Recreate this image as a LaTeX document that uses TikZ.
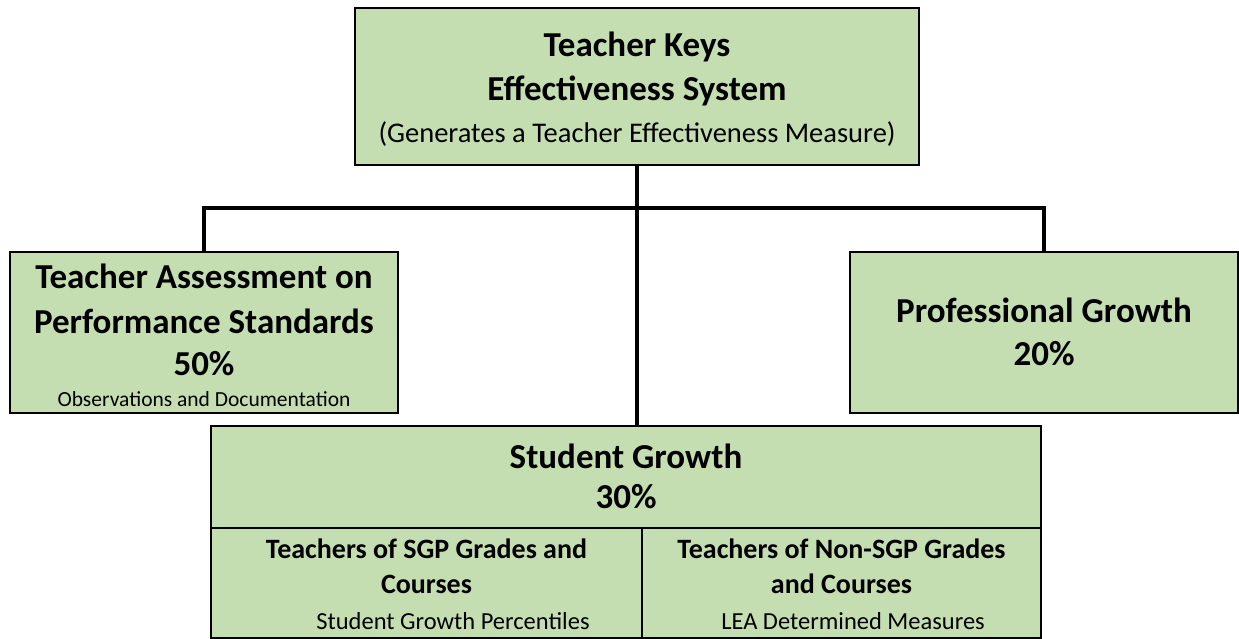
\documentclass[tikz,border=0pt]{standalone}
\usepackage{fontspec}
\setmainfont{Carlito}
\definecolor{boxgreen}{RGB}{196,222,178}
\begin{document}
\begin{tikzpicture}[x=1pt,y=-1pt,
  box/.style={draw=black, line width=2pt, fill=boxgreen, rectangle, inner sep=0pt},
  conn/.style={draw=black, line width=3.6pt},
  ttl/.style={anchor=base, inner sep=0pt, font=\fontsize{35}{40}\selectfont\bfseries},
  par/.style={anchor=base, inner sep=0pt, font=\fontsize{28.5}{32}\selectfont},
  subttl/.style={anchor=base, inner sep=0pt, font=\fontsize{28}{32}\selectfont\bfseries},
  small/.style={anchor=base, inner sep=0pt, font=\fontsize{24.5}{28}\selectfont},
  tiny/.style={anchor=base, inner sep=0pt, font=\fontsize{21.5}{24}\selectfont}]
\useasboundingbox (0,0) rectangle (1239,639);
\fill[white] (0,0) rectangle (1239,639);

% boxes
\node[box, minimum width=564pt, minimum height=157pt] (top) at (637,86.5) {};
\node[box, minimum width=388pt, minimum height=161pt] (tap) at (204,332.5) {};
\node[box, minimum width=388pt, minimum height=161pt] (pg) at (1044,332.5) {};
\node[box, minimum width=830pt, minimum height=102pt] (sg) at (626,477) {};
\node[box, minimum width=431pt, minimum height=110pt] (sgl) at (426.5,583) {};
\node[box, minimum width=399pt, minimum height=110pt] (sgr) at (841.5,583) {};

% connectors
\coordinate (hm) at (637,208);
\draw[conn] (top.south) -- (top.south |- sg.north);
\draw[conn] (tap.north) -- (tap.north |- hm) -- (pg.north |- hm) -- (pg.north);

% texts
\node[ttl] (t1) at (637,57) {Teacher Keys};
\node[ttl] (t2) at (637,101) {Effectiveness System};
\node[par] (t3) at (637,143) {(Generates a Teacher Effectiveness Measure)};

\node[ttl] (a1) at (204,288) {Teacher Assessment on};
\node[ttl] (a2) at (204,333) {Performance Standards};
\node[ttl] (a3) at (204,375) {50\%};
\node[tiny] (a4) at (204,406) {Observations and Documentation};

\node[ttl] (p1) at (1044,322) {Professional Growth};
\node[ttl] (p2) at (1044,365) {20\%};

\node[ttl] (s1) at (626,468) {Student Growth};
\node[ttl] (s2) at (626,508) {30\%};

\node[subttl] (l1) at (426.5,558) {Teachers of SGP Grades and};
\node[subttl] (l2) at (426.5,593) {Courses};
\node[small] (l3) at (453,629) {Student Growth Percentiles};

\node[subttl] (r1) at (841.5,558) {Teachers of Non-SGP Grades};
\node[subttl] (r2) at (841.5,593) {and Courses};
\node[small] (r3) at (853,629) {LEA Determined Measures};
\end{tikzpicture}
\end{document}
